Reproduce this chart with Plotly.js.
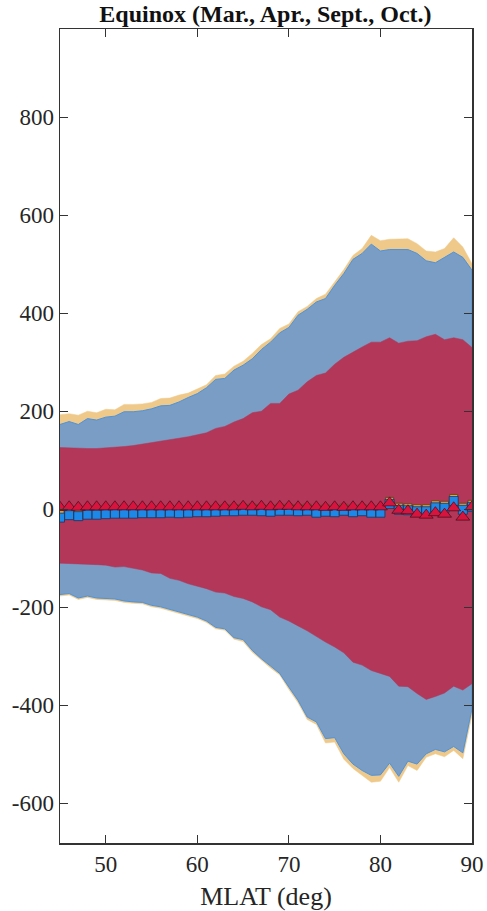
<!DOCTYPE html>
<html>
<head>
<meta charset="utf-8">
<script src="https://cdn.plot.ly/plotly-3.0.1.min.js"></script>
<style>html,body{margin:0;padding:0;background:#fff;}#chart{width:487px;height:911px;}</style>
</head>
<body>
<div id="chart"></div>
<script>
// MLAT (deg)
var mlat = [45,46,47,48,49,50,51,52,53,54,55,56,57,58,59,60,61,62,63,64,65,66,67,68,69,70,71,72,73,74,75,76,77,78,79,80,81,82,83,84,85,86,87,88,89,90];

// Outer (yellow) band
var yellowTop = [193,195,192,200,197,204,203,214,214,215,218,226,227,233,237,246,254,273,276,292,302,318,336,348,369,378,403,414,430,439,464,489,518,532,559,548,551,552,552,542,527,525,532,554,535,501];
var yellowBot = [-177,-175,-184,-180,-184,-185,-186,-190,-192,-193,-199,-202,-208,-213,-218,-223,-231,-244,-247,-265,-270,-292,-308,-324,-338,-368,-395,-429,-439,-477,-475,-510,-529,-543,-557,-555,-527,-557,-523,-533,-506,-499,-505,-492,-509,-420];

// Middle (blue) band
var blueTop = [173,179,173,185,182,188,190,199,199,201,205,211,212,219,228,236,248,265,267,284,294,307,326,341,360,371,396,408,423,430,457,481,510,522,541,527,530,530,530,522,507,503,514,525,514,488];
var blueBot = [-174,-172,-181,-177,-181,-182,-183,-187,-189,-190,-196,-199,-205,-210,-215,-220,-228,-241,-244,-262,-266,-288,-305,-320,-335,-363,-390,-424,-434,-468,-466,-499,-520,-533,-543,-542,-518,-545,-514,-520,-499,-490,-495,-484,-497,-407];

// Inner (red) band
var redTop = [126,125,125,124,124,125,126,128,130,133,135,139,142,145,148,152,156,165,169,178,185,197,200,216,216,235,243,260,273,278,296,310,321,331,341,341,350,339,343,344,352,357,346,350,346,330];
var redBot = [-110,-111,-111,-112,-113,-114,-118,-117,-121,-124,-130,-131,-141,-145,-152,-157,-162,-169,-171,-178,-182,-189,-199,-205,-220,-228,-238,-248,-259,-271,-281,-293,-312,-318,-329,-335,-341,-361,-362,-376,-388,-382,-375,-361,-369,-356];

// Point series
var triVals = [4,5,4,5,5,5,5,5,5,5,5,5,5,5,5,5,5,5,5,5,6,5,6,5,6,6,5,5,5,4,5,4,5,5,5,5,13,-2,-3,-10,-12,-7,-10,3,-16,5];
var sqBlue = [-17,-12,-14,-11,-11,-10,-9,-9,-9,-8,-8,-8,-7,-8,-7,-6,-6,-5,-4,-4,-3,-3,-4,-5,-3,-3,-4,-3,-7,-5,-6,-3,-6,-4,-7,-7,11,-1,-2,-4,-4,4,3,17,-1,5];
var sqYellow = [-11,-7,-8,-6,-5,-5,-4,-4,-4,-3,-3,-3,-2,-3,-2,-1,-1,0,1,1,2,2,1,0,2,2,1,2,-2,0,-1,2,-1,1,-2,-2,16,4,3,1,1,9,8,22,4,10];

// Tick labels
var xTicks = [50, 60, 70, 80, 90];
var yTicks = [-600, -400, -200, 0, 200, 400, 600, 800];
var yTickText = ['-600', '-400', '-200', '0', '200', '400', '600', '800'];

function band(top, bot) {
  return {
    x: mlat.concat(mlat.slice().reverse()),
    y: top.concat(bot.slice().reverse())
  };
}

var by = band(yellowTop, yellowBot);
var bb = band(blueTop, blueBot);
var br = band(redTop, redBot);

var traces = [
  {x: by.x, y: by.y, type: 'scatter', mode: 'lines', fill: 'toself', fillcolor: '#EFC98A', line: {color: '#EFC98A', width: 0.5}, hoverinfo: 'skip', showlegend: false},
  {x: bb.x, y: bb.y, type: 'scatter', mode: 'lines', fill: 'toself', fillcolor: '#799DC4', line: {color: '#4F93DA', width: 1}, hoverinfo: 'skip', showlegend: false},
  {x: br.x, y: br.y, type: 'scatter', mode: 'lines', fill: 'toself', fillcolor: '#B23759', line: {color: '#B23759', width: 0.5}, hoverinfo: 'skip', showlegend: false},
  {x: mlat, y: sqYellow, type: 'scatter', mode: 'markers', marker: {symbol: 'square', size: 8, color: '#E0B050', line: {color: '#5a4010', width: 0.8}}, showlegend: false},
  {x: mlat, y: sqBlue, type: 'scatter', mode: 'markers', marker: {symbol: 'square', size: 9, color: '#1E88E8', line: {color: '#1b3358', width: 0.8}}, showlegend: false},
  {x: mlat, y: triVals, type: 'scatter', mode: 'markers', marker: {symbol: 'triangle-up', size: 12, color: '#D8143E', line: {color: '#4a1020', width: 0.8}}, showlegend: false}
];

var fontFam = '"Liberation Serif", "Times New Roman", serif';
var layout = {
  width: 487,
  height: 911,
  margin: {l: 60, r: 15, t: 29, b: 68},
  paper_bgcolor: '#ffffff',
  plot_bgcolor: '#ffffff',
  font: {family: fontFam, color: '#262626', size: 23},
  title: {text: '<b>Equinox (Mar., Apr., Sept., Oct.)</b>', font: {family: fontFam, size: 24, color: '#111'}, x: 0.545, xanchor: 'center', y: 0.985, yanchor: 'middle'},
  xaxis: {
    range: [45, 90],
    tickvals: xTicks,
    ticks: 'inside', ticklen: 8, tickwidth: 1.2, tickcolor: '#333',
    showline: true, linecolor: '#333', linewidth: 1.5, mirror: 'ticks',
    showgrid: false, zeroline: false,
    tickfont: {family: fontFam, size: 23, color: '#262626'},
    title: {text: 'MLAT (deg)', font: {family: fontFam, size: 26, color: '#262626'}, standoff: 10}
  },
  yaxis: {
    range: [-681, 980],
    tickvals: yTicks,
    ticktext: yTickText,
    ticks: 'inside', ticklen: 8, tickwidth: 1.2, tickcolor: '#333',
    showline: true, linecolor: '#333', linewidth: 1.5, mirror: 'ticks',
    showgrid: false, zeroline: false,
    tickfont: {family: fontFam, size: 23, color: '#262626'}
  }
};

Plotly.newPlot('chart', traces, layout, {staticPlot: true, displayModeBar: false});
</script>
</body>
</html>
